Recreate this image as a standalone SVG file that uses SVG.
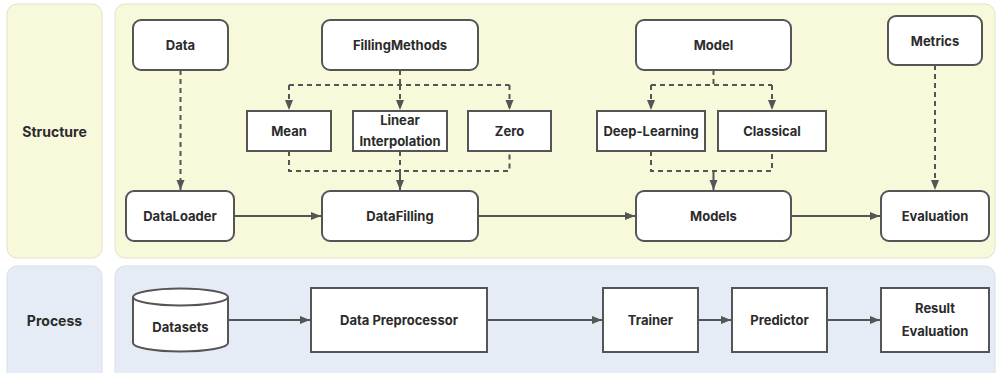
<svg xmlns="http://www.w3.org/2000/svg" width="997" height="373" viewBox="0 0 997 373">
<defs>
<style>
.ps{fill:#f8f8db;stroke:#e2e2cc;stroke-width:1}
.pp{fill:#e6ecf5;stroke:#d9dfe8;stroke-width:1}
.n{fill:#fff;stroke:#555;stroke-width:2}
.t{font-family:Inter,"Liberation Sans",sans-serif;font-weight:bold;font-size:13px;fill:#2b2b2b;text-anchor:middle;dominant-baseline:central}
.lt{font-family:Inter,"Liberation Sans",sans-serif;font-weight:bold;font-size:14px;fill:#2b2b2b;text-anchor:middle;dominant-baseline:central}
.c{fill:none;stroke:#555;stroke-width:2}
.d{fill:none;stroke:#555;stroke-width:2;stroke-dasharray:5 4}
</style>
<marker id="ah" viewBox="0 0 10 10" refX="10" refY="5" markerWidth="10" markerHeight="10" markerUnits="userSpaceOnUse" orient="auto">
<path d="M0,1 L10,5 L0,9 Z" fill="#555"/>
</marker>
</defs>
<rect width="997" height="373" fill="#fff"/>
<g id="lanes">
<rect class="ps" x="7" y="4" width="95" height="254" rx="10"/>
<rect class="ps" x="115" y="4" width="880" height="254" rx="10"/>
<rect class="pp" x="7" y="266" width="95" height="117" rx="10"/>
<rect class="pp" x="115" y="266" width="880" height="117" rx="10"/>
<text class="lt" x="54.5" y="131">Structure</text>
<text class="lt" x="54.5" y="320">Process</text>
</g>
<g id="connectors">
<path class="d" d="M180.5,70 V190" marker-end="url(#ah)"/>
<path class="d" d="M400,70 V85 M289,85 H509.5"/>
<path class="d" d="M289,85 V110" marker-end="url(#ah)"/>
<path class="d" d="M400,85 V110" marker-end="url(#ah)"/>
<path class="d" d="M509.5,85 V110" marker-end="url(#ah)"/>
<path class="d" d="M289,151 V171 H509.5 V151 M400,151 V171"/>
<path class="c" d="M400,171 V190" marker-end="url(#ah)"/>
<path class="d" d="M713.5,70 V85 M651,85 H772"/>
<path class="d" d="M651,85 V110" marker-end="url(#ah)"/>
<path class="d" d="M772,85 V110" marker-end="url(#ah)"/>
<path class="d" d="M651,151 V171 H772 V151"/>
<path class="c" d="M713.5,171 V190" marker-end="url(#ah)"/>
<path class="d" d="M935,65 V190" marker-end="url(#ah)"/>
<path class="c" d="M234,216 H321" marker-end="url(#ah)"/>
<path class="c" d="M478,216 H635" marker-end="url(#ah)"/>
<path class="c" d="M791,216 H880" marker-end="url(#ah)"/>
<path class="c" d="M228,320 H310" marker-end="url(#ah)"/>
<path class="c" d="M487,320 H602" marker-end="url(#ah)"/>
<path class="c" d="M698,320 H731" marker-end="url(#ah)"/>
<path class="c" d="M827,320 H880" marker-end="url(#ah)"/>
</g>
<g id="n-data"><rect class="n" x="133" y="20" width="95" height="50" rx="8"/><text class="t" x="180.5" y="45">Data</text></g>
<g id="n-fillingmethods"><rect class="n" x="322" y="20" width="156" height="50" rx="8"/><text class="t" x="400" y="45">FillingMethods</text></g>
<g id="n-model"><rect class="n" x="636" y="20" width="155" height="50" rx="8"/><text class="t" x="713.5" y="45">Model</text></g>
<g id="n-metrics"><rect class="n" x="888" y="16" width="94" height="49" rx="8"/><text class="t" x="935" y="41">Metrics</text></g>
<g id="n-mean"><rect class="n" x="247" y="111" width="84" height="40"/><text class="t" x="289" y="131">Mean</text></g>
<g id="n-linear"><rect class="n" x="353" y="111" width="94" height="40"/><text class="t" x="400" y="120">Linear</text><text class="t" x="400" y="141">Interpolation</text></g>
<g id="n-zero"><rect class="n" x="468" y="111" width="83" height="40"/><text class="t" x="509.5" y="131">Zero</text></g>
<g id="n-deeplearning"><rect class="n" x="597" y="111" width="108" height="40"/><text class="t" x="651" y="131">Deep-Learning</text></g>
<g id="n-classical"><rect class="n" x="718" y="111" width="108" height="40"/><text class="t" x="772" y="131">Classical</text></g>
<g id="n-dataloader"><rect class="n" x="126" y="191" width="108" height="50" rx="8"/><text class="t" x="180" y="216">DataLoader</text></g>
<g id="n-datafilling"><rect class="n" x="322" y="191" width="156" height="50" rx="8"/><text class="t" x="400" y="216">DataFilling</text></g>
<g id="n-models"><rect class="n" x="636" y="191" width="155" height="50" rx="8"/><text class="t" x="713.5" y="216">Models</text></g>
<g id="n-evaluation"><rect class="n" x="881" y="191" width="108" height="50" rx="8"/><text class="t" x="935" y="216">Evaluation</text></g>
<g id="n-datasets">
<path class="n" d="M133,297 A47.5,8.5 0 0 1 228,297 V343 A47.5,8.5 0 0 1 133,343 Z"/>
<path class="n" d="M133,297 A47.5,8.5 0 0 0 228,297"/>
<text class="t" x="180.5" y="327">Datasets</text>
</g>
<g id="n-preprocessor"><rect class="n" x="311" y="288" width="176" height="64"/><text class="t" x="399" y="320">Data Preprocessor</text></g>
<g id="n-trainer"><rect class="n" x="603" y="288" width="95" height="64"/><text class="t" x="650.5" y="320">Trainer</text></g>
<g id="n-predictor"><rect class="n" x="732" y="288" width="95" height="64"/><text class="t" x="779.5" y="320">Predictor</text></g>
<g id="n-result"><rect class="n" x="881" y="288" width="108" height="64"/><text class="t" x="935" y="308">Result</text><text class="t" x="935" y="331">Evaluation</text></g>
</svg>
